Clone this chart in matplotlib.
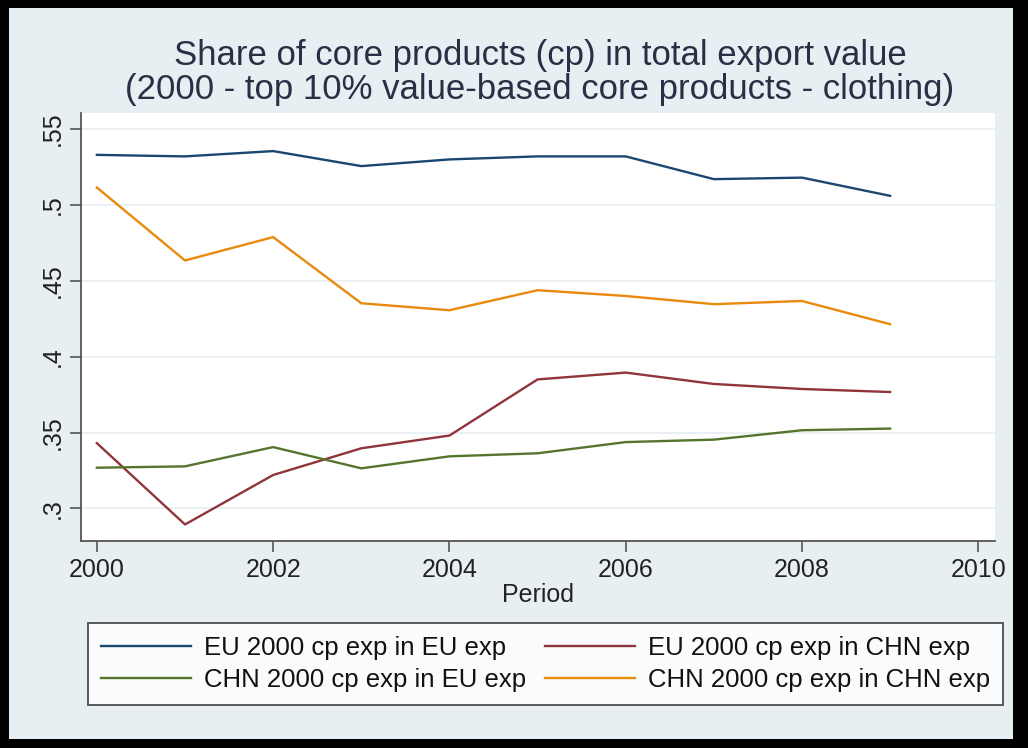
import numpy as np
import matplotlib.pyplot as plt
from matplotlib.patches import Rectangle

# data
years = [2000, 2001, 2002, 2003, 2004, 2005, 2006, 2007, 2008, 2009]
eu_in_eu = [0.533, 0.532, 0.5355, 0.5256, 0.530, 0.532, 0.532, 0.517, 0.518, 0.506]
eu_in_chn = [0.343, 0.2894, 0.322, 0.3396, 0.348, 0.385, 0.3895, 0.382, 0.3787, 0.3767]
chn_in_eu = [0.3268, 0.3277, 0.3404, 0.3264, 0.3343, 0.3363, 0.3437, 0.3453, 0.3515, 0.3526]
chn_in_chn = [0.5115, 0.4634, 0.4788, 0.4352, 0.4306, 0.4438, 0.440, 0.4346, 0.4367, 0.4214]

labels = ["EU 2000 cp exp in EU exp", "EU 2000 cp exp in CHN exp",
          "CHN 2000 cp exp in EU exp", "CHN 2000 cp exp in CHN exp"]
title1 = "Share of core products (cp) in total export value"
title2 = "(2000 - top 10% value-based core products - clothing)"
xticks = [2000, 2002, 2004, 2006, 2008, 2010]
yticks = [0.3, 0.35, 0.4, 0.45, 0.5, 0.55]
ytick_labels = [".3", ".35", ".4", ".45", ".5", ".55"]

plt.rcParams['font.family'] = ['Liberation Sans', 'DejaVu Sans']

bg = "#e8eff2"
W, H = 1028, 748
fig = plt.figure(figsize=(W / 100, H / 100), dpi=100, facecolor=bg)

# black frame round the picture
for x0, y0, w, h in [(0, 0, W, 9), (0, H - 8, W, 8), (0, 0, 9, H), (W - 15, 0, 15, H)]:
    fig.patches.append(Rectangle((x0 / W, y0 / H), w / W, h / H, transform=fig.transFigure,
                                 facecolor="black", edgecolor="none", zorder=10))

ax = fig.add_axes([81 / W, 1 - 541 / H, (995 - 81) / W, (541 - 113) / H])
ax.set_facecolor("white")

# Stata s2color palette
ax.plot(years, eu_in_eu, color="#1a476f", lw=1.7, label=labels[0])
ax.plot(years, eu_in_chn, color="#90353b", lw=1.7, label=labels[1])
ax.plot(years, chn_in_eu, color="#55752f", lw=1.7, label=labels[2])
ax.plot(years, chn_in_chn, color="#e88a0c", lw=1.7, label=labels[3])

ax.set_xlim(1999.82, 2010.19)
ax.set_ylim(0.2785, 0.5606)
ax.set_xticks(xticks)
ax.set_yticks(yticks)
ax.set_yticklabels(ytick_labels, rotation=90, va="center")
ax.tick_params(axis="both", direction="out", length=8, width=1.2, color="#555555",
               labelsize=18, labelcolor="#222222", pad=4)
ax.grid(axis="y", color="#e6eef1", lw=1.2)
ax.set_axisbelow(True)

for s in ["top", "right"]:
    ax.spines[s].set_visible(False)
for s in ["left", "bottom"]:
    ax.spines[s].set_color("#555555")
    ax.spines[s].set_linewidth(1.3)

ax.set_xlabel("Period", fontsize=18, color="#222222", labelpad=1)

fig.text(540 / W, 1 - 65 / H, title1, ha="center", va="baseline", fontsize=25, color="#2b2f45")
fig.text(540 / W, 1 - 99 / H, title2, ha="center", va="baseline", fontsize=25, color="#2b2f45")

# legend in order: row1 = EU-EU, EU-CHN ; row2 = CHN-EU, CHN-CHN
h, l = ax.get_legend_handles_labels()
order = [0, 2, 1, 3]
leg = fig.legend([h[i] for i in order], [l[i] for i in order], ncol=2,
                 bbox_to_anchor=(88 / W, 1 - 623 / H), loc="upper left",
                 fontsize=18.5, handlelength=3.5, handletextpad=0.5, columnspacing=0.75,
                 frameon=True, fancybox=False, borderaxespad=0, borderpad=0.5,
                 labelspacing=0.32, labelcolor="#111111")
leg.get_frame().set_edgecolor("#333333")
leg.get_frame().set_linewidth(1.4)
leg.get_frame().set_facecolor("white")

plt.savefig("out.png", dpi=100, facecolor=bg)
